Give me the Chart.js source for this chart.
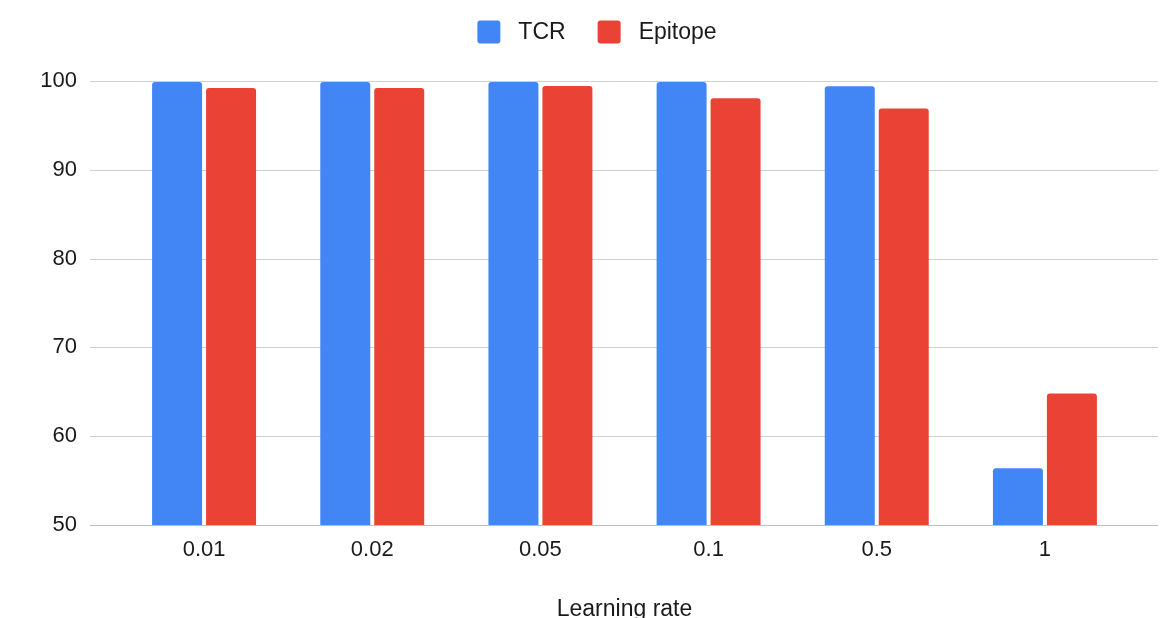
<!DOCTYPE html>
<html>
<head>
<meta charset="utf-8">
<script src="https://cdn.jsdelivr.net/npm/chart.js@4"></script>
<style>
  html, body { margin: 0; padding: 0; background: #fff; }
  #wrap { width: 1166px; height: 618px; }
</style>
</head>
<body>
<div id="wrap"><canvas id="c" width="1166" height="618"></canvas></div>
<script>
// Learning-rate sweep: accuracy (%) for TCR and Epitope
const learningRates = ['0.01', '0.02', '0.05', '0.1', '0.5', '1'];
const tcrValues = [99.9, 99.9, 99.9, 99.9, 99.4, 56.4];
const epitopeValues = [99.2, 99.2, 99.45, 98.05, 96.9, 64.8];
const yTicks = [50, 60, 70, 80, 90, 100];
const xTitle = 'Learning rate';

const BLUE = '#4285F4';
const RED = '#EA4335';
const FONT = '"Liberation Sans", Arial, Helvetica, sans-serif';
const TEXT = '#1a1a1a';

// Horizontal gridlines that run a little past the plot on both sides
const wideGrid = {
  id: 'wideGrid',
  beforeDatasetsDraw(chart) {
    const { ctx, chartArea, scales: { y } } = chart;
    ctx.save();
    ctx.lineWidth = 1;
    yTicks.forEach(v => {
      const py = Math.round(y.getPixelForValue(v)) + 0.5;
      ctx.strokeStyle = v === yTicks[0] ? '#bdbdbd' : '#d0d0d0';
      ctx.beginPath();
      ctx.moveTo(chartArea.left - 30, py);
      ctx.lineTo(chartArea.right + 29, py);
      ctx.stroke();
    });
    ctx.restore();
  }
};

// Legend row at the top: rounded swatch followed by the series name
const topLegend = {
  id: 'topLegend',
  afterDraw(chart) {
    const { ctx } = chart;
    const box = 23, gap = 18, itemGap = 32, cy = 32;
    ctx.save();
    ctx.font = '23px ' + FONT;
    const items = chart.data.datasets.map(d => ({
      label: d.label, color: d.backgroundColor, w: ctx.measureText(d.label).width
    }));
    const total = items.reduce((s, it) => s + box + gap + it.w, 0) + itemGap * (items.length - 1);
    let x = 597 - total / 2;
    items.forEach(it => {
      ctx.fillStyle = it.color;
      ctx.beginPath();
      ctx.roundRect(x, cy - box / 2, box, box, 3);
      ctx.fill();
      ctx.fillStyle = TEXT;
      ctx.textBaseline = 'middle';
      ctx.textAlign = 'left';
      ctx.fillText(it.label, x + box + gap, cy + 1);
      x += box + gap + it.w + itemGap;
    });
    ctx.restore();
  }
};

new Chart(document.getElementById('c'), {
  type: 'bar',
  data: {
    labels: learningRates,
    datasets: [
      {
        label: 'TCR',
        data: tcrValues,
        backgroundColor: BLUE,
        borderRadius: { topLeft: 3, topRight: 3, bottomLeft: 0, bottomRight: 0 },
        borderSkipped: 'start',
        categoryPercentage: 0.642,
        barPercentage: 0.926
      },
      {
        label: 'Epitope',
        data: epitopeValues,
        backgroundColor: RED,
        borderRadius: { topLeft: 3, topRight: 3, bottomLeft: 0, bottomRight: 0 },
        borderSkipped: 'start',
        categoryPercentage: 0.642,
        barPercentage: 0.926
      }
    ]
  },
  options: {
    responsive: false,
    animation: false,
    devicePixelRatio: 1,
    layout: { padding: { top: 81, right: 37, bottom: 0, left: 0 } },
    plugins: {
      legend: { display: false },
      tooltip: { enabled: false }
    },
    scales: {
      x: {
        grid: { display: false, drawTicks: false },
        border: { display: false },
        ticks: { color: TEXT, font: { family: FONT, size: 22 }, padding: 12 },
        title: {
          display: true,
          text: xTitle,
          color: TEXT,
          font: { family: FONT, size: 23, lineHeight: 1 },
          padding: { top: 0, bottom: -3 }
        },
        afterFit(scale) { scale.height = 93; }
      },
      y: {
        min: 50,
        max: 100,
        grid: { display: false, drawTicks: false },
        border: { display: false },
        ticks: {
          stepSize: 10,
          color: TEXT,
          font: { family: FONT, size: 22 },
          padding: 43
        },
        afterFit(scale) { scale.width = 120; }
      }
    }
  },
  plugins: [wideGrid, topLegend]
});
</script>
</body>
</html>
